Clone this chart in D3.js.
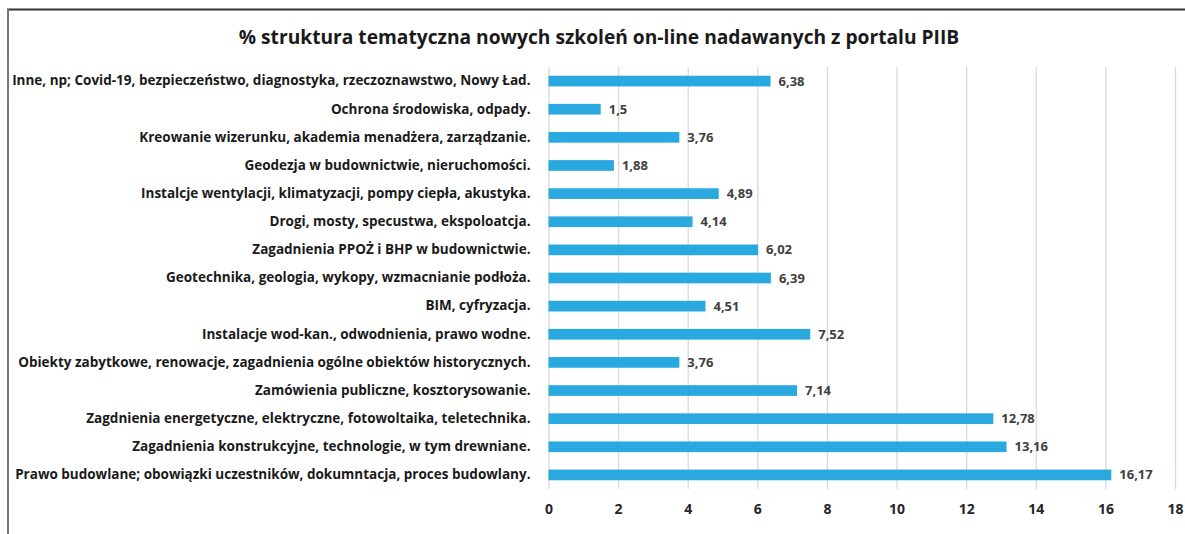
<!DOCTYPE html>
<html>
<head>
<meta charset="utf-8">
<script src="https://cdn.jsdelivr.net/npm/d3@7"></script>
<style>
  html, body { margin: 0; padding: 0; background: #fff; }
  svg { display: block; font-family: "Open Sans", Lato, sans-serif; }
</style>
</head>
<body>
<svg id="chart" width="1185" height="534"></svg>
<script>
const title = "% struktura tematyczna nowych szkoleń on-line nadawanych z portalu PIIB";

const categories = [
  "Inne, np; Covid-19, bezpieczeństwo, diagnostyka, rzeczoznawstwo, Nowy Ład.",
  "Ochrona środowiska, odpady.",
  "Kreowanie wizerunku, akademia menadżera, zarządzanie.",
  "Geodezja w budownictwie, nieruchomości.",
  "Instalcje wentylacji, klimatyzacji, pompy ciepła, akustyka.",
  "Drogi, mosty, specustwa, ekspoloatcja.",
  "Zagadnienia PPOŻ i BHP w budownictwie.",
  "Geotechnika, geologia, wykopy, wzmacnianie podłoża.",
  "BIM, cyfryzacja.",
  "Instalacje wod-kan., odwodnienia, prawo wodne.",
  "Obiekty zabytkowe, renowacje, zagadnienia ogólne obiektów historycznych.",
  "Zamówienia publiczne, kosztorysowanie.",
  "Zagdnienia energetyczne, elektryczne, fotowoltaika, teletechnika.",
  "Zagadnienia konstrukcyjne, technologie, w tym drewniane.",
  "Prawo budowlane; obowiązki uczestników, dokumntacja, proces budowlany."
];
const values = [6.38, 1.5, 3.76, 1.88, 4.89, 4.14, 6.02, 6.39, 4.51, 7.52, 3.76, 7.14, 12.78, 13.16, 16.17];
const xTicks = [0, 2, 4, 6, 8, 10, 12, 14, 16, 18];

const data = categories.map((c, i) => ({ cat: c, value: values[i] }));

const svg = d3.select("#chart");
const width = +svg.attr("width");
const height = +svg.attr("height");
const margin = { top: 67, right: 10, bottom: 45, left: 548.5 };

// frame
svg.append("line")
  .attr("x1", 7).attr("x2", width).attr("y1", 9.5).attr("y2", 9.5)
  .attr("stroke", "#333").attr("stroke-width", 2);
svg.append("line")
  .attr("x1", 8).attr("x2", 8).attr("y1", 9).attr("y2", height)
  .attr("stroke", "#777").attr("stroke-width", 2);

// title
svg.append("text")
  .attr("x", 599)
  .attr("y", 44)
  .attr("text-anchor", "middle")
  .attr("font-size", "19.2px")
  .attr("font-weight", "bold")
  .attr("fill", "#1a1a1a")
  .text(title);

const x = d3.scaleLinear()
  .domain([0, 18])
  .range([margin.left, 1175]);

const y = d3.scaleBand()
  .domain(categories)
  .range([margin.top, 489])
  .paddingInner(0.62)
  .paddingOuter(0.31);

// grid
svg.append("g")
  .attr("transform", `translate(0,489)`)
  .call(d3.axisBottom(x).tickValues(xTicks).tickSize(-(489 - margin.top)).tickFormat(""))
  .call(g => g.select(".domain").remove())
  .selectAll("line")
  .attr("stroke", "#d9d9d9")
  .attr("stroke-width", 1.3);

// x axis labels
svg.append("g")
  .attr("transform", `translate(0,489)`)
  .call(d3.axisBottom(x).tickValues(xTicks).tickSize(0).tickPadding(15))
  .call(g => g.select(".domain").remove())
  .selectAll("text")
  .attr("font-family", "'Open Sans', sans-serif")
  .attr("font-size", "14px")
  .attr("font-weight", "bold")
  .attr("fill", "#262626");

// category labels
svg.append("g")
  .attr("transform", `translate(${margin.left},0)`)
  .call(d3.axisLeft(y).tickSize(0).tickPadding(18))
  .call(g => g.select(".domain").remove())
  .selectAll("text")
  .attr("font-family", "'Open Sans', sans-serif")
  .attr("font-size", "13.5px")
  .attr("font-weight", "bold")
  .attr("fill", "#1a1a1a");

// bars
svg.append("g")
  .selectAll("rect")
  .data(data)
  .join("rect")
  .attr("x", x(0))
  .attr("y", d => y(d.cat))
  .attr("width", d => x(d.value) - x(0))
  .attr("height", y.bandwidth())
  .attr("fill", "#29a9df");

// value labels
const fmt = v => String(v).replace(".", ",");
svg.append("g")
  .selectAll("text")
  .data(data)
  .join("text")
  .attr("x", d => x(d.value) + 8)
  .attr("y", d => y(d.cat) + y.bandwidth() / 2)
  .attr("dy", "0.35em")
  .attr("font-size", "13px")
  .attr("font-weight", "bold")
  .attr("fill", "#404040")
  .text(d => fmt(d.value));
</script>
</body>
</html>
